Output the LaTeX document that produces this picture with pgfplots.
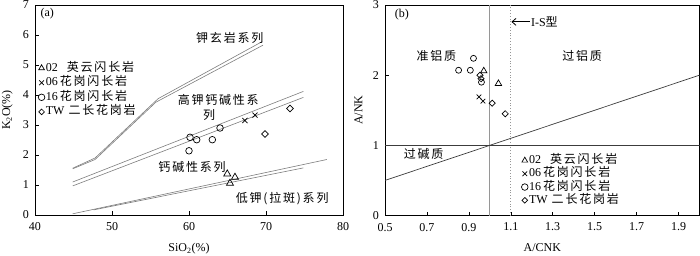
\documentclass[border=0pt]{standalone}
\usepackage{fontspec}
\setmainfont{Liberation Serif}
\newfontfamily\cjk[LetterSpace=15]{Noto Sans CJK SC}
\usepackage{pgfplots}
\pgfplotsset{compat=1.18}
\usetikzlibrary{arrows.meta}
\definecolor{bgray}{RGB}{125,125,125}
\definecolor{vgray}{RGB}{150,150,150}
\definecolor{dgray}{RGB}{60,60,60}
\newcommand\fs{\fontsize{12}{13}\selectfont}
\newcommand\cn{\fontsize{12}{13}\selectfont\cjk}
\pgfplotsset{
  common/.style={
    scale only axis, tick pos=left, tick align=inside,
    /pgf/number format/assume math mode=true,
    tick label style={font=\fs},
    xticklabel style={yshift=-4pt},
    yticklabel style={xshift=-2.5pt},
    label style={font=\fs},
    xlabel shift=6pt, ylabel shift=3.5pt,
    axis line style={line width=0.8pt},
    every tick/.style={black, line width=0.6pt},
    major tick length=4pt,
    legend cell align=left,
    legend image code/.code={\draw[##1, mark size=3.3pt] plot coordinates {(0pt,0pt)};},
  },
  bline/.style={bgray, line width=0.6pt, forget plot, mark=none},
  dleg/.style={legend image code/.code={\draw[##1, mark size=2pt] plot coordinates {(0pt,0pt)};}},
}
\begin{document}
\begin{tikzpicture}
\useasboundingbox (0pt,0pt) rectangle (700pt,-256pt);
% ---------------- (a)
\begin{axis}[common,
  at={(35pt,-215pt)}, anchor=south west, width=308pt, height=210pt,
  xmin=40, xmax=80, ymin=0, ymax=7,
  xtick={40,50,60,70,80}, ytick={0,1,2,3,4,5,6,7},
  xlabel={SiO\textsubscript{2}(\%)}, ylabel={K\textsubscript{2}O(\%)},
  legend style={draw=none, fill=none, at={(axis cs:40.4,5.12)}, anchor=north west,
    inner sep=0pt, row sep=1.6pt,
    nodes={inner sep=1pt, text height=8.5pt, text depth=2.5pt, font=\fs}},
]
\addplot[bline] coordinates {(44.9,1.56) (47.8,1.90) (56.0,3.88) (69.5,5.78)};
\addplot[bline] coordinates {(44.9,1.54) (47.8,1.85) (55.7,3.76) (69.6,5.66)};
\addplot[bline] coordinates {(44.9,1.10) (74.85,4.12)};
\addplot[bline] coordinates {(44.9,0.97) (74.85,3.92)};
\addplot[bline] coordinates {(44.9,0.04) (77.9,1.85)};
\addplot[bline] coordinates {(47.6,0.17) (74.85,1.57)};
\addplot[only marks, mark=triangle, mark size=4pt, mark options={line width=0.7pt}] coordinates {(64.97,1.37) (65.97,1.26) (65.32,1.06)};
\addlegendentry{02\hspace{9pt}{\cn 英云闪长岩}}
\addplot[only marks, mark=x, mark size=3.6pt, mark options={line width=0.7pt}] coordinates {(67.27,3.15) (68.57,3.33)};
\addlegendentry{06\hspace{2pt}{\cn 花岗闪长岩}}
\addplot[only marks, mark=o, mark size=3.3pt, mark options={line width=0.7pt}] coordinates {(60.13,2.59) (61.0,2.51) (63.03,2.51) (64.03,2.90) (60.0,2.14)};
\addlegendentry{16\hspace{2pt}{\cn 花岗闪长岩}}
\addplot[only marks, dleg, mark=square, mark size=2.4pt, mark options={line width=0.7pt, rotate=45}] coordinates {(69.87,2.70) (73.12,3.55)};
\addlegendentry{TW\hspace{4pt}{\cn 二长花岗岩}}
\node[font=\fs] at (axis cs:41.6,6.70) {(a)};
\node[font=\cn] at (axis cs:65.3,5.89) {钾玄岩系列};
\node[font=\cn] at (axis cs:63.8,3.85) {高钾钙碱性系};
\node[font=\cn] at (axis cs:62.6,3.35) {列};
\node[font=\cn] at (axis cs:60.4,1.61) {钙碱性系列};
\node[font=\cn] at (axis cs:72.1,0.54) {低钾(拉斑)系列};
\end{axis}
% ---------------- (b)
\begin{axis}[common,
  at={(385pt,-215.5pt)}, anchor=south west, width=314.5pt, height=210.5pt,
  xmin=0.5, xmax=2.0, ymin=0, ymax=3,
  xtick={0.5,0.7,0.9,1.1,1.3,1.5,1.7,1.9}, ytick={0,1,2,3},
  xticklabel style={/pgf/number format/.cd, fixed, fixed zerofill, precision=1},
  xlabel={A/CNK}, ylabel={A/NK},
  legend style={draw=none, fill=none, at={(axis cs:1.15,0.88)}, anchor=north west,
    inner sep=0pt, row sep=0.3pt,
    nodes={inner sep=1pt, text height=8.5pt, text depth=2.5pt, font=\fs}},
]
\addplot[vgray, line width=1.3pt, forget plot] coordinates {(1.0,0) (1.0,3)};
\addplot[vgray, line width=0.8pt, dotted, forget plot] coordinates {(1.1,0) (1.1,3)};
\addplot[dgray, line width=0.7pt, forget plot] coordinates {(0.5,1) (2.0,1)};
\addplot[dgray, line width=0.7pt, forget plot] coordinates {(0.5,0.5) (2.0,2.0)};
\addplot[only marks, mark=triangle, mark size=3.7pt, mark options={line width=0.7pt}] coordinates {(0.971,2.06) (1.041,1.88)};
\addlegendentry{02\hspace{9pt}{\cn 英云闪长岩}}
\addplot[only marks, mark=x, mark size=3.3pt, mark options={line width=0.7pt}] coordinates {(0.948,1.69) (0.967,1.63)};
\addlegendentry{06\hspace{2pt}{\cn 花岗闪长岩}}
\addplot[only marks, mark=o, mark size=3pt, mark options={line width=0.7pt}] coordinates {(0.851,2.07) (0.907,2.07) (0.922,2.24) (0.960,1.90)};
\addlegendentry{16\hspace{2pt}{\cn 花岗闪长岩}}
\addplot[only marks, dleg, mark=square, mark size=2.2pt, mark options={line width=0.7pt, rotate=45}] coordinates {(0.953,2.00) (0.958,1.95) (1.011,1.60) (1.073,1.45)};
\addlegendentry{TW\hspace{4pt}{\cn 二长花岗岩}}
\node[font=\fs] at (axis cs:0.58,2.87) {(b)};
\draw[{Straight Barb[length=4pt,width=7pt]}-, line width=0.8pt] (axis cs:1.103,2.76) -- (axis cs:1.19,2.76) node[right, inner sep=1pt, font=\fs] {I-S{\cn 型}};
\node[font=\cn] at (axis cs:0.745,2.28) {准铝质};
\node[font=\cn] at (axis cs:1.44,2.28) {过铝质};
\node[font=\cn] at (axis cs:0.684,0.88) {过碱质};
\end{axis}
\end{tikzpicture}
\end{document}
